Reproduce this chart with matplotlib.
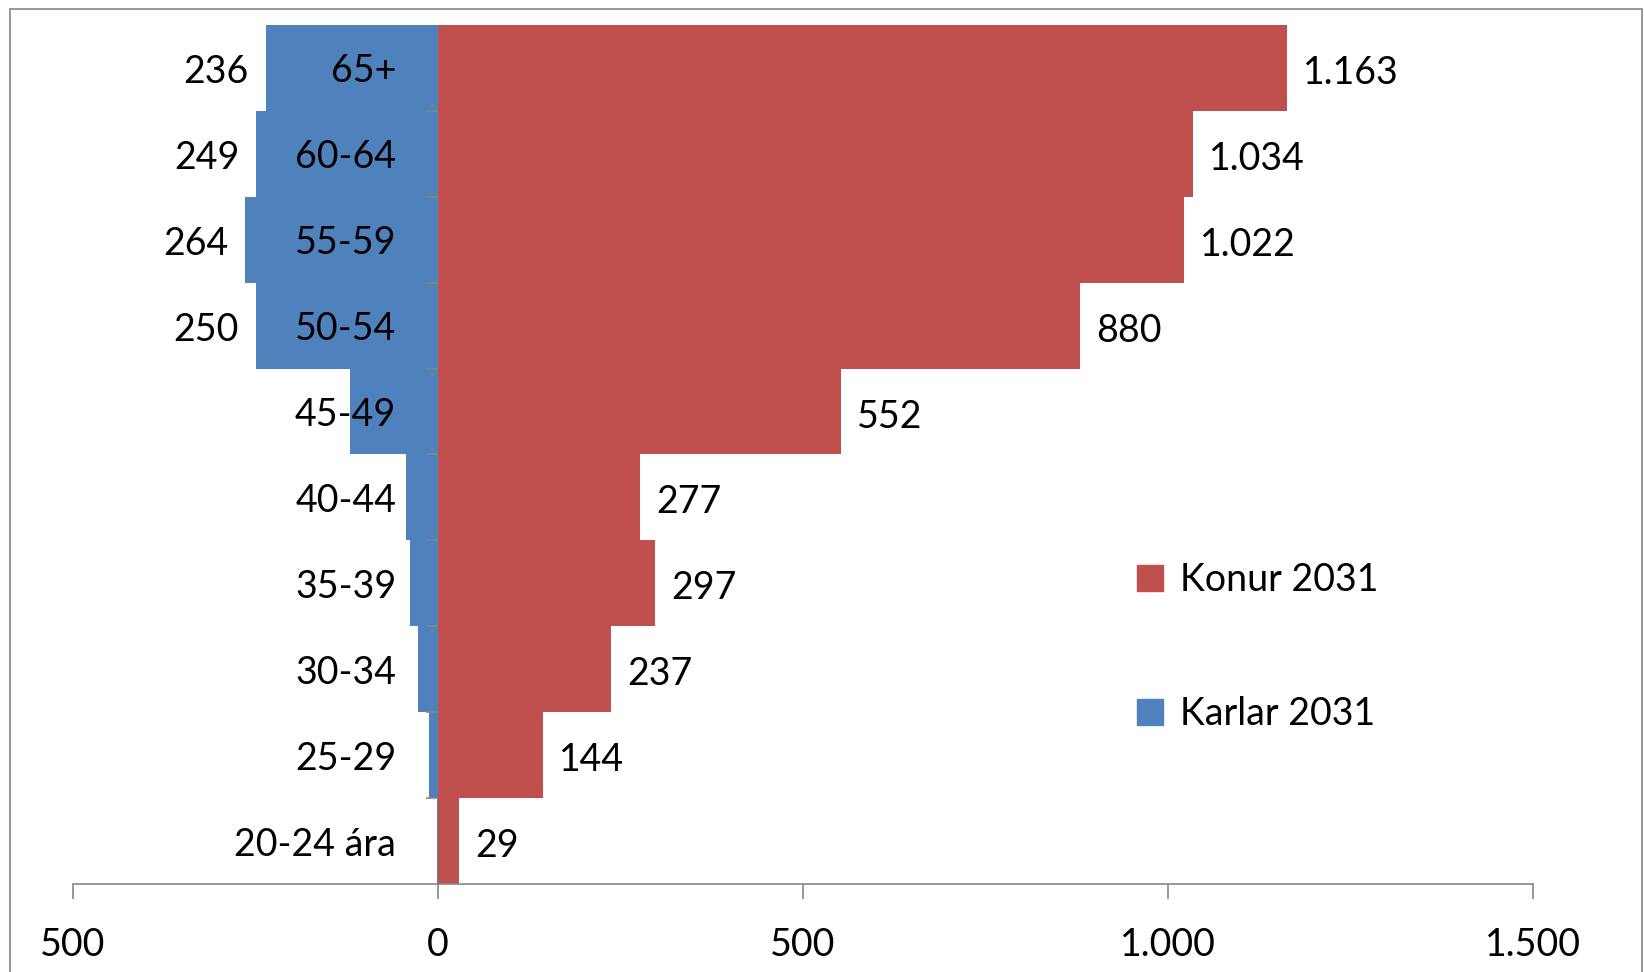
import matplotlib.pyplot as plt
from matplotlib.patches import Patch, Rectangle
from matplotlib.ticker import FuncFormatter

plt.rcParams['font.family'] = ['Lato', 'DejaVu Sans']

# aldurshópar, neðst fyrst
hopar = ['20-24 ára', '25-29', '30-34', '35-39', '40-44', '45-49',
         '50-54', '55-59', '60-64', '65+']
konur = [29, 144, 237, 297, 277, 552, 880, 1022, 1034, 1163]
karlar = [1, 12, 27, 38, 44, 120, 250, 264, 249, 236]

blar = '#4F81BD'
raudur = '#C0504D'
grar = '#868686'
fs = 27


def fmt(v):
    return f"{abs(int(v)):,}".replace(",", ".")


fig = plt.figure(figsize=(16.44, 9.72), dpi=100)
W, H = 1644, 972
ax = fig.add_axes([73 / W, 1 - 884 / H, (1533 - 73) / W, (884 - 25) / H])

y = list(range(len(hopar)))
ax.barh(y, [-v for v in karlar], height=1.0, color=blar, label='Karlar 2031')
ax.barh(y, konur, height=1.0, color=raudur, label='Konur 2031')

# merkingar
for yi, v in zip(y, konur):
    ax.annotate(fmt(v), (v, yi), xytext=(16, -5), textcoords='offset pixels',
                ha='left', va='center', fontsize=fs)
for yi, v in zip(y, karlar):
    if v > 200:  # hinar skarast við heiti hópanna
        ax.annotate(fmt(v), (-v, yi), xytext=(-17, -4), textcoords='offset pixels',
                    ha='right', va='center', fontsize=fs)

ax.set_xlim(-500, 1500)
ax.set_ylim(-0.5, len(hopar) - 0.5)
ax.set_xticks([-500, 0, 500, 1000, 1500])
ax.xaxis.set_major_formatter(FuncFormatter(lambda v, p: fmt(v)))
ax.tick_params(axis='x', direction='out', length=11, color=grar, width=1.2,
               labelsize=fs, pad=20)

ax.set_yticks(y)
ax.set_yticklabels(hopar)
ax.set_yticks([i + 0.5 for i in y[:-1]], minor=True)
ax.tick_params(axis='y', which='major', length=0, labelsize=fs, pad=30)
ax.tick_params(axis='y', which='minor', direction='out', length=9, color=grar, width=1.2)

ax.spines['top'].set_visible(False)
ax.spines['right'].set_visible(False)
ax.spines['left'].set_position(('data', 0))
ax.spines['left'].set_color(grar)
ax.spines['left'].set_zorder(0.5)
ax.spines['bottom'].set_color(grar)
ax.spines['bottom'].set_linewidth(1.2)

handles = [Patch(color=raudur, label='Konur 2031'), Patch(color=blar, label='Karlar 2031')]
fig.legend(handles=handles, loc='upper left', bbox_to_anchor=(1137 / W, 1 - 562 / H),
           frameon=False, fontsize=fs, handlelength=0.7, handleheight=0.7,
           handletextpad=0.45, labelspacing=2.62, borderpad=0, borderaxespad=0)

fig.patches.append(Rectangle((10 / W, -0.02), (1642 - 10) / W, 1.02 - 9 / H,
                             transform=fig.transFigure, fill=False,
                             edgecolor=grar, linewidth=1.2))

fig.savefig('out.png', dpi=100)
